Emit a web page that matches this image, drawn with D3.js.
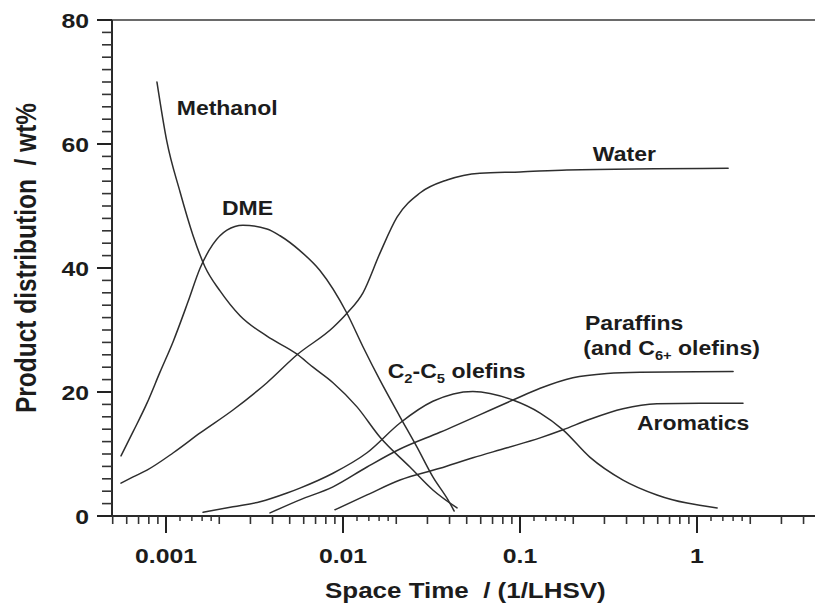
<!DOCTYPE html>
<html>
<head>
<meta charset="utf-8">
<script src="https://cdn.jsdelivr.net/npm/d3@7"></script>
<style>
  html, body { margin: 0; padding: 0; background: #fff; }
  svg { display: block; }
  text { font-family: "Liberation Sans", Arial, sans-serif; font-weight: bold; fill: #1c1c1c; white-space: pre; }
</style>
</head>
<body>
<svg id="chart" width="815" height="608"></svg>
<script>
// ---- Data ----
const methanolX = [0.000889, 0.00101, 0.0012, 0.00142, 0.00166, 0.00202, 0.00262, 0.00372, 0.0055, 0.00677, 0.00878, 0.012, 0.0162, 0.0239, 0.0322, 0.0441];
const methanolY = [70, 60.5, 52.3, 45.3, 40.2, 36.3, 32.3, 29.0, 26.1, 24.0, 21.5, 17.6, 12.7, 7.9, 4.2, 1.3];

const dmeX = [0.000557, 0.000652, 0.000781, 0.000925, 0.0011, 0.00133, 0.00156, 0.00184, 0.00221, 0.00272, 0.00372, 0.00441, 0.00571, 0.00741, 0.01053, 0.01297, 0.01618, 0.021, 0.0262, 0.0322, 0.0392, 0.0425];
const dmeY = [9.7, 13.6, 18.2, 23.2, 28.2, 34.5, 40.0, 43.8, 46.1, 46.9, 46.3, 45.2, 42.8, 39.6, 32.7, 27.3, 21.9, 16.0, 11.1, 6.3, 2.6, 0.8];

const waterX = [0.000557, 0.000652, 0.000781, 0.0011, 0.00156, 0.00239, 0.00372, 0.0055, 0.00878, 0.01053, 0.01297, 0.01618, 0.0202, 0.0272, 0.0387, 0.0594, 0.1, 0.184, 1.5];
const waterY = [5.3, 6.3, 7.4, 10.2, 13.4, 17.1, 21.5, 26.0, 30.4, 32.7, 36.0, 42.4, 48.2, 52.1, 54.2, 55.3, 55.5, 55.8, 56.1];

const olefinsX = [0.00162, 0.00239, 0.0034, 0.00483, 0.00571, 0.00878, 0.01367, 0.021, 0.0322, 0.0542, 0.0912, 0.130, 0.175, 0.248, 0.382, 0.594, 1.30];
const olefinsY = [0.6, 1.5, 2.3, 3.7, 4.5, 6.9, 10.2, 15.0, 18.5, 20.1, 18.7, 16.6, 13.9, 9.5, 5.8, 3.4, 1.3];

const paraffinsX = [0.00387, 0.00571, 0.00878, 0.01367, 0.021, 0.0353, 0.0912, 0.130, 0.199, 0.31, 0.476, 1.6];
const paraffinsY = [0.5, 2.6, 4.7, 7.9, 10.8, 13.5, 18.7, 20.6, 22.3, 23.0, 23.2, 23.3];

const aromaticsX = [0.00901, 0.01367, 0.021, 0.0353, 0.0542, 0.0845, 0.130, 0.175, 0.248, 0.382, 0.594, 1.04, 1.82];
const aromaticsY = [1.0, 3.4, 5.8, 7.7, 9.4, 11.0, 12.6, 13.9, 15.6, 17.3, 18.1, 18.2, 18.2];

const yMajorTicks = [0, 20, 40, 60, 80];
const yMinorTicks = d3.range(0, 81, 2);
const xMajorTicks = [0.001, 0.01, 0.1, 1];
const xTickLabels = ["0.001", "0.01", "0.1", "1"];
const decades = [0.0001, 0.001, 0.01, 0.1, 1];
const minorMultipliers = [2, 3, 4, 5, 6, 7, 8, 9];
const dotMultipliers = [1.2, 1.4, 1.6, 1.8];

const labels = [
  { parts: [["Methanol", 0]], x: 0.00115, y: 64.7 },
  { parts: [["DME", 0]], x: 0.00207, y: 48.5 },
  { parts: [["Water", 0]], x: 0.258, y: 57.3 },
  { parts: [["C", 0], ["2", 1], ["-C", 0], ["5", 1], [" olefins", 0]], x: 0.0179, y: 22.3 },
  { parts: [["Paraffins", 0]], x: 0.233, y: 30.0 },
  { parts: [["(and C", 0], ["6+", 1], [" olefins)", 0]], x: 0.228, y: 26.0 },
  { parts: [["Aromatics", 0]], x: 0.458, y: 13.9 }
];

// ---- Layout ----
const W = 815, H = 608;
const svg = d3.select("#chart");
svg.append("rect").attr("width", W).attr("height", H).attr("fill", "#fff");

const x = d3.scaleLog().domain([0.0005, 5]).range([112.7, 820.7]);
const y = d3.scaleLinear().domain([0, 80]).range([516, 20]);
const SX = 1.18; // horizontal text stretch seen in the reference

// frame
svg.append("line").attr("x1", 112).attr("x2", W).attr("y1", y(80)).attr("y2", y(80))
  .attr("stroke", "#6a6a6a").attr("stroke-width", 2);
svg.append("line").attr("x1", 112).attr("x2", 112).attr("y1", y(80)).attr("y2", y(0))
  .attr("stroke", "#2a2a2a").attr("stroke-width", 2);
svg.append("line").attr("x1", 111).attr("x2", W).attr("y1", y(0)).attr("y2", y(0))
  .attr("stroke", "#2a2a2a").attr("stroke-width", 2);

// y ticks
svg.selectAll(".ymin").data(yMinorTicks.filter(v => !yMajorTicks.includes(v))).enter()
  .append("line").attr("x1", 102).attr("x2", 112)
  .attr("y1", d => y(d)).attr("y2", d => y(d))
  .attr("stroke", "#333").attr("stroke-width", 1.6);
svg.selectAll(".ymaj").data(yMajorTicks).enter()
  .append("line").attr("x1", 97).attr("x2", 112)
  .attr("y1", d => y(d)).attr("y2", d => y(d))
  .attr("stroke", "#222").attr("stroke-width", 2);
svg.selectAll(".ylab").data(yMajorTicks).enter()
  .append("text")
  .attr("transform", d => `translate(89,${y(d) + 8}) scale(${SX},1)`)
  .attr("text-anchor", "end").attr("font-size", 21)
  .text(d => d);

// x ticks
const inDomain = v => x(v) >= 111 && x(v) <= W;
const minorVals = [], dotVals = [];
decades.forEach(dc => {
  minorMultipliers.forEach(m => { const v = dc * m; if (inDomain(v)) minorVals.push(v); });
  dotMultipliers.forEach(m => { const v = dc * m; if (inDomain(v)) dotVals.push(v); });
});
svg.selectAll(".xmin").data(minorVals).enter()
  .append("line").attr("x1", d => x(d)).attr("x2", d => x(d))
  .attr("y1", 516).attr("y2", 524)
  .attr("stroke", "#333").attr("stroke-width", 1.6);
svg.selectAll(".xdot").data(dotVals).enter()
  .append("line").attr("x1", d => x(d)).attr("x2", d => x(d))
  .attr("y1", 517).attr("y2", 521)
  .attr("stroke", "#444").attr("stroke-width", 1.6);
svg.selectAll(".xmaj").data(xMajorTicks).enter()
  .append("line").attr("x1", d => x(d)).attr("x2", d => x(d))
  .attr("y1", 516).attr("y2", 533)
  .attr("stroke", "#222").attr("stroke-width", 2);
svg.selectAll(".xlab").data(xMajorTicks).enter()
  .append("text")
  .attr("transform", d => `translate(${x(d)},563) scale(${SX},1)`)
  .attr("text-anchor", "middle").attr("font-size", 21)
  .text((d, i) => xTickLabels[i]);

// axis titles
svg.append("text")
  .attr("transform", `translate(325,598) scale(${SX},1)`)
  .attr("font-size", 22)
  .text("Space Time  / (1/LHSV)");
svg.append("text")
  .attr("transform", `translate(36,258) scale(${SX},1) rotate(-90)`)
  .attr("text-anchor", "middle").attr("font-size", 24.5)
  .text("Product distribution  / wt%");

// curves
const series = [
  [methanolX, methanolY], [dmeX, dmeY], [waterX, waterY],
  [olefinsX, olefinsY], [paraffinsX, paraffinsY], [aromaticsX, aromaticsY]
];
const line = d3.line().x(d => x(d[0])).y(d => y(d[1])).curve(d3.curveMonotoneX);
series.forEach(([xs, ys]) => {
  svg.append("path")
    .datum(xs.map((v, i) => [v, ys[i]]))
    .attr("d", line)
    .attr("fill", "none").attr("stroke", "#2e2e2e").attr("stroke-width", 1.5)
    .attr("stroke-linejoin", "round").attr("stroke-linecap", "round");
});

// curve labels
labels.forEach(l => {
  const t = svg.append("text")
    .attr("transform", `translate(${x(l.x)},${y(l.y)}) scale(${SX},1)`)
    .attr("font-size", 19.5);
  let prevSub = false;
  l.parts.forEach(([s, sub]) => {
    const ts = t.append("tspan").text(s);
    if (sub) { ts.attr("font-size", 12.5).attr("dy", prevSub ? 0 : 5); }
    else if (prevSub) { ts.attr("dy", -5); }
    prevSub = !!sub;
  });
});
</script>
</body>
</html>
